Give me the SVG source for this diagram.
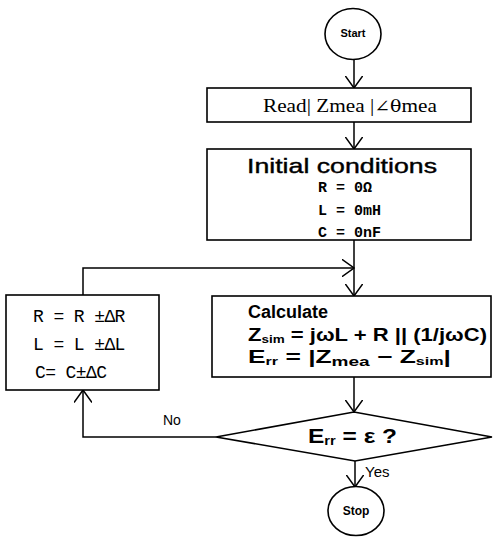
<svg xmlns="http://www.w3.org/2000/svg" width="494" height="538" viewBox="0 0 494 538">
<style>
.box{fill:#fff;stroke:#000;stroke-width:1.6}
.ln{fill:none;stroke:#000;stroke-width:1.5}
.sans{font-family:"Liberation Sans",Arial,sans-serif;fill:#000}
.serif{font-family:"Liberation Serif","Times New Roman",serif;fill:#000}
.mono{font-family:"Liberation Mono","Courier New",monospace;fill:#000}
.b{font-weight:bold}
</style>
<defs>
<marker id="arr" markerUnits="userSpaceOnUse" viewBox="0 0 13 18" refX="12.5" refY="9" markerWidth="13" markerHeight="18" orient="auto">
<path d="M0,0 L12.5,9 L0,18" fill="none" stroke="#000" stroke-width="1.5"/>
</marker>
</defs>
<rect width="494" height="538" fill="#fff"/>
<g id="connectors">
<line class="ln" x1="354" y1="60" x2="354" y2="88" marker-end="url(#arr)"/>
<line class="ln" x1="354" y1="122" x2="354" y2="149" marker-end="url(#arr)"/>
<line class="ln" x1="354" y1="240" x2="354" y2="296" marker-end="url(#arr)"/>
<polyline class="ln" points="83,295 83,268 354,268" marker-end="url(#arr)"/>
<line class="ln" x1="354" y1="377" x2="354" y2="412" marker-end="url(#arr)"/>
<polyline class="ln" points="216,437 83,437 83,390" marker-end="url(#arr)"/>
<line class="ln" x1="355" y1="461" x2="355" y2="487" marker-end="url(#arr)"/>
<text class="sans" x="163" y="425" font-size="14">No</text>
<text class="sans" x="365" y="477" font-size="15">Yes</text>
</g>
<g id="start">
<ellipse class="box" cx="353" cy="34" rx="28" ry="25.5"/>
<text class="sans b" x="353" y="37" font-size="11" text-anchor="middle">Start</text>
</g>
<g id="read">
<rect class="box" x="207" y="88" width="264" height="34"/>
<text class="serif" x="263" y="112" font-size="19" textLength="174" lengthAdjust="spacingAndGlyphs">Read| Zmea |<tspan font-family="'DejaVu Serif',serif" font-size="17">∠θ</tspan>mea</text>
</g>
<g id="initial">
<rect class="box" x="207" y="149" width="264" height="91"/>
<text class="sans" x="247" y="173" font-size="21" textLength="190" lengthAdjust="spacingAndGlyphs" stroke="#000" stroke-width="0.4">Initial conditions</text>
<text class="mono b" x="318" y="192" font-size="15">R = 0Ω</text>
<text class="mono b" x="318" y="215" font-size="15">L = 0mH</text>
<text class="mono b" x="318" y="237" font-size="15">C = 0nF</text>
</g>
<g id="update">
<rect class="box" x="6" y="295" width="153" height="95"/>
<text class="mono" x="33" y="322" font-size="18" letter-spacing="-0.6">R = R ±ΔR</text>
<text class="mono" x="33" y="350" font-size="18" letter-spacing="-0.6">L = L ±ΔL</text>
<text class="mono" x="35" y="378" font-size="18" letter-spacing="-0.6">C= C±ΔC</text>
</g>
<g id="calculate">
<rect class="box" x="212" y="296" width="279" height="81"/>
<text class="sans b" x="248" y="318" font-size="18">Calculate</text>
<text class="sans b" x="248" y="341" font-size="18" textLength="239" lengthAdjust="spacingAndGlyphs">Z<tspan font-size="11" dy="2">sim</tspan><tspan dy="-2"> = jωL + R || (1/jωC)</tspan></text>
<text class="sans b" x="248" y="363" font-size="18" textLength="203" lengthAdjust="spacingAndGlyphs">E<tspan font-size="11" dy="2">rr</tspan><tspan dy="-2"> = |Z</tspan><tspan font-size="13" dy="3">mea</tspan><tspan dy="-3"> − Z</tspan><tspan font-size="11" dy="2">sim</tspan><tspan dy="-2">|</tspan></text>
</g>
<g id="decision">
<polygon class="box" points="216,437 354,412 492,437 355,461"/>
<text class="sans b" x="308" y="443" font-size="20" textLength="89" lengthAdjust="spacingAndGlyphs">E<tspan font-size="12" dy="2">rr</tspan><tspan dy="-2"> = ε ?</tspan></text>
</g>
<g id="stop">
<ellipse class="box" cx="356" cy="511" rx="28" ry="24.5"/>
<text class="sans b" x="356" y="515" font-size="12" text-anchor="middle">Stop</text>
</g>
</svg>
